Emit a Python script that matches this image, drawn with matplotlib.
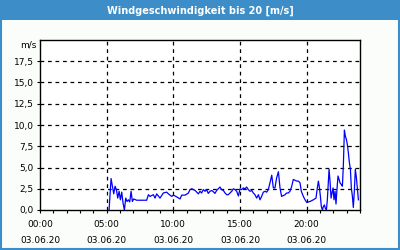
import matplotlib
matplotlib.use("Agg")
import matplotlib.pyplot as plt
from matplotlib.patches import Rectangle
import numpy as np

# wind speed readings, hours since 00:00 on 03.06.20 and m/s
hours = [5.18, 5.33, 5.43, 5.53, 5.63, 5.73, 5.83, 5.93, 6.03, 6.13, 6.23, 6.33, 6.43, 6.53,
         6.63, 6.73, 6.83, 6.93, 7.03, 7.25, 8.0, 8.13, 8.25, 8.5, 8.63, 8.75, 9.0, 9.25,
         9.5, 9.63, 9.88, 10.0, 10.25, 10.5, 10.63, 10.88, 11.13, 11.25, 11.38, 11.63, 11.88,
         12.0, 12.12, 12.25, 12.38, 12.5, 12.62, 12.75, 12.88, 13.0, 13.12, 13.25, 13.38, 13.5,
         13.62, 13.75, 13.88, 14.0, 14.12, 14.25, 14.38, 14.5, 14.62, 14.75, 14.88, 15.0, 15.12,
         15.25, 15.38, 15.5, 15.62, 15.75, 15.88, 16.0, 16.12, 16.25, 16.38, 16.5, 16.62, 16.75,
         16.88, 17.0, 17.12, 17.25, 17.38, 17.5, 17.62, 17.75, 17.88, 18.0, 18.12, 18.25, 18.38,
         18.5, 18.62, 18.75, 18.88, 19.0, 19.12, 19.25, 19.38, 19.5, 19.6, 19.75, 19.88, 20.0,
         20.25, 20.5, 20.7, 20.8, 20.88, 20.95, 21.03, 21.1, 21.18, 21.25, 21.33, 21.4, 21.48,
         21.55, 21.68, 21.75, 21.83, 21.9, 21.98, 22.05, 22.13, 22.2, 22.28, 22.35, 22.43, 22.5,
         22.6, 22.68, 22.75, 22.83, 22.9, 22.98, 23.05, 23.13, 23.2, 23.28, 23.35, 23.43, 23.5,
         23.58, 23.65, 23.73, 23.8, 23.88]
wind = [0.0, 3.7, 2.8, 1.9, 2.8, 2.4, 1.4, 2.2, 1.2, 2.1, 0.8, 0.0, 1.4, 1.0,
        1.2, 0.95, 2.2, 1.0, 1.3, 1.15, 1.15, 1.8, 1.6, 1.8, 1.4, 1.9, 1.4, 2.0,
        2.1, 1.9, 1.6, 1.75, 1.55, 1.3, 1.75, 1.75, 2.0, 2.4, 2.5, 2.3, 1.9,
        2.2, 2.0, 2.4, 2.2, 2.4, 1.95, 2.2, 2.3, 2.15, 1.95, 2.3, 2.5, 2.7,
        2.4, 2.3, 2.0, 1.8, 1.8, 2.0, 2.2, 2.5, 2.4, 2.2, 1.65, 2.5, 2.4,
        2.6, 2.5, 2.7, 2.4, 2.2, 2.3, 2.0, 1.8, 1.4, 1.8, 1.2, 1.6, 2.1,
        2.2, 2.1, 2.4, 3.2, 4.1, 2.6, 2.6, 3.8, 4.5, 2.6, 1.6, 1.7, 1.8,
        2.0, 2.0, 2.2, 2.8, 3.6, 3.5, 3.4, 3.4, 3.2, 2.2, 1.6, 1.2, 0.9,
        1.0, 1.2, 1.4, 2.6, 3.4, 2.7, 1.6, 0.4, 0.0, 0.4, 0.6, 0.2, 0.0,
        1.2, 4.8, 3.4, 1.4, 2.0, 2.6, 1.2, 2.2, 0.7, 2.6, 4.0, 3.6, 3.2,
        3.0, 2.8, 5.2, 9.4, 8.7, 8.3, 7.7, 6.7, 5.6, 4.8, 2.6, 1.6, 0.3,
        2.4, 4.8, 3.8, 2.6, 1.2]

x_ticks = [0, 5, 10, 15, 20]
x_labels = ["00:00\n03.06.20", "05:00\n03.06.20", "10:00\n03.06.20",
            "15:00\n03.06.20", "20:00\n03.06.20"]
y_ticks = np.arange(0, 20, 2.5)
y_labels = ["%.1f" % v for v in y_ticks]
y_labels = [s.replace(".", ",") for s in y_labels]

title_blue = "#3d8ec8"

fig = plt.figure(figsize=(4, 2.5), dpi=100, facecolor="#fafdfa")
# title bar and frame
fig.patches.append(Rectangle((0, 0.92), 1, 0.08, transform=fig.transFigure,
                             facecolor=title_blue, edgecolor="none", zorder=0))
fig.patches.append(Rectangle((0.002, 0.003), 0.996, 0.995, transform=fig.transFigure,
                             facecolor="none", edgecolor=title_blue, lw=1.5, zorder=1))
fig.text(0.5, 0.958, "Windgeschwindigkeit bis 20 [m/s]", color="white",
         fontsize=7, fontweight="bold", ha="center", va="center")

ax = fig.add_axes([0.1, 0.16, 0.8, 0.68])
ax.set_facecolor("white")
ax.plot(hours, wind, color="#0000ff", lw=0.9)

ax.set_xlim(0, 24)
ax.set_ylim(0, 20)
ax.set_xticks(x_ticks)
ax.set_xticklabels(x_labels, fontsize=6.5, linespacing=2.0)
ax.set_xticks(np.arange(0, 25, 1), minor=True)
ax.set_yticks(y_ticks)
ax.set_yticklabels(y_labels, fontsize=6.5)
ax.tick_params(axis="both", which="both", direction="out", length=2.5, width=0.8,
               colors="black", pad=2)
ax.tick_params(axis="x", which="major", pad=5)

for v in [5, 10, 15, 20]:
    ax.axvline(v, color="black", lw=0.9, ls=(0, (3, 3)), zorder=1)
for v in y_ticks[1:]:
    ax.axhline(v, color="black", lw=0.9, ls=(0, (3, 3)), zorder=1)

for s in ax.spines.values():
    s.set_linewidth(1.0)

fig.text(0.092, 0.82, "m/s", fontsize=6.5, ha="right", va="center")

fig.savefig("out.png", dpi=100, facecolor=fig.get_facecolor())
